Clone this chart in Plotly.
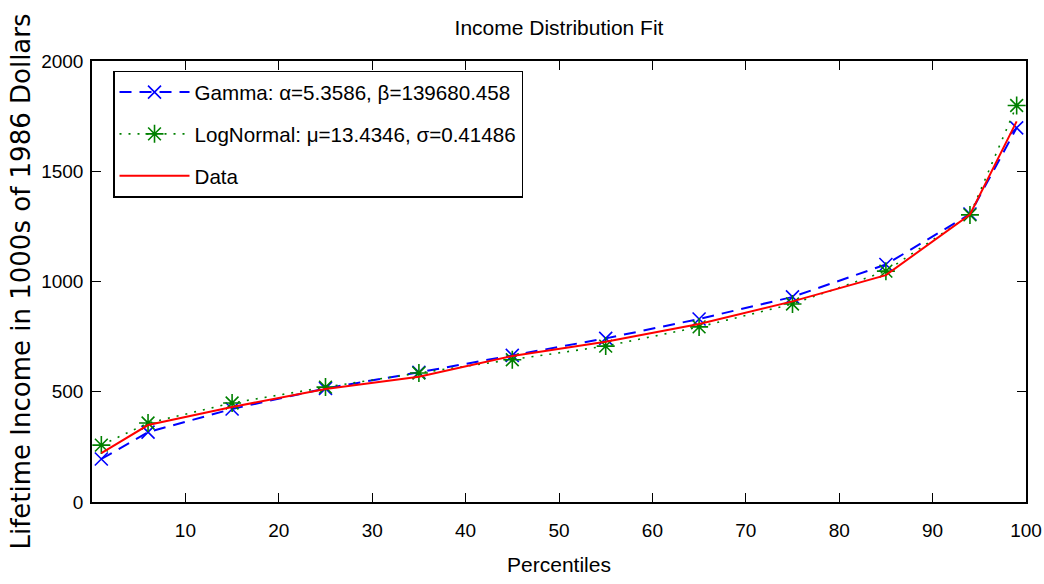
import plotly.graph_objects as go

percentiles = [1, 6, 15, 25, 35, 45, 55, 65, 75, 85, 94, 99]
gamma_fit = [195, 317, 422, 515, 588, 665, 742, 830, 930, 1077, 1306, 1697]
lognormal_fit = [258, 358, 449, 521, 585, 645, 707, 794, 898, 1047, 1302, 1798]
data_vals = [222, 349, 431, 512, 568, 662, 727, 807, 910, 1029, 1304, 1726]

x_ticks = [10, 20, 30, 40, 50, 60, 70, 80, 90, 100]
y_ticks = [0, 500, 1000, 1500, 2000]

SANS = "Liberation Sans, Arial, sans-serif"

W, H = 1044, 584

fig = go.Figure()
fig.add_trace(go.Scatter(
    x=percentiles, y=gamma_fit, mode="lines+markers",
    name="Gamma: \u03b1=5.3586, \u03b2=139680.458",
    line=dict(color="#0000FF", width=2, dash="12px,8px"),
    marker=dict(symbol="x-thin-open", size=13, color="#0000FF",
                line=dict(color="#0000FF", width=1.6)),
    legendgroup="g1",
))
fig.add_trace(go.Scatter(
    x=percentiles, y=lognormal_fit, mode="lines+markers",
    name="LogNormal: \u03bc=13.4346, \u03c3=0.41486",
    line=dict(color="#008000", width=1.6, dash="2px,7px"),
    marker=dict(symbol="asterisk-open", size=15, color="#008000",
                line=dict(color="#008000", width=1.6)),
    legendgroup="g2",
))
fig.add_trace(go.Scatter(
    x=percentiles, y=data_vals, mode="lines",
    name="Data",
    line=dict(color="#FF0000", width=2),
    legendgroup="g3",
))

axis_common = dict(
    showline=True, linecolor="black", linewidth=1.5, mirror="ticks",
    ticks="inside", ticklen=9, tickwidth=1.2, tickcolor="black",
    showgrid=False, zeroline=False, automargin=False,
    ticklabeloverflow="allow",
    tickfont=dict(family=SANS, size=19, color="black"),
)

fig.update_layout(
    width=W, height=H,
    margin=dict(l=92, r=18, t=61, b=82),
    paper_bgcolor="white", plot_bgcolor="white",
    title=dict(text="Income Distribution Fit", x=0.5, xref="paper",
               y=1 - 28 / H, yref="container", yanchor="middle", xanchor="center",
               font=dict(family=SANS, size=21, color="black")),
    xaxis=dict(range=[0, 100], tickvals=x_ticks, ticktext=[str(v) for v in x_ticks],
               ticklabelstandoff=10,
               title=dict(text="Percentiles", font=dict(family=SANS, size=21, color="black"),
                          standoff=18),
               **axis_common),
    yaxis=dict(range=[0, 2000], tickvals=y_ticks, ticktext=[str(v) for v in y_ticks],
               ticklabelstandoff=3,
               title=dict(text="Lifetime Income in 1000s of 1986 Dollars",
                          font=dict(family="DejaVu Sans", size=26, color="black"),
                          standoff=3),
               **axis_common),
    legend=dict(x=0.0225, y=0.978, xanchor="left", yanchor="top",
                bgcolor="white", bordercolor="black", borderwidth=1.5,
                font=dict(family=SANS, size=20.6, color="black"),
                itemwidth=70, tracegroupgap=12),
    showlegend=True,
)

fig.write_html(
    "out.html",
    config={"displayModeBar": False},
    post_script="document.body.style.margin='0';document.body.style.overflow='hidden';",
)
